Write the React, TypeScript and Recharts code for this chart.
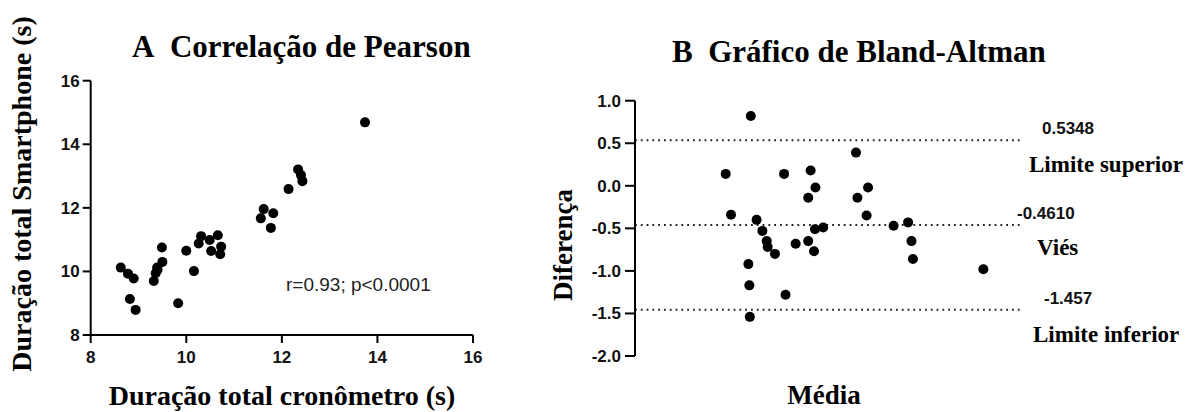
import { ReferenceLine, Scatter, ScatterChart, XAxis, YAxis } from 'recharts';

// A: stopwatch (x) vs smartphone (y), seconds
const stopwatch = [
  8.63, 8.78, 8.9, 8.82, 8.94, 9.32, 9.36, 9.39, 9.4, 9.5, 9.49, 9.83, 10.0, 10.16, 10.26,
  10.31, 10.49, 10.52, 10.66, 10.73, 10.71, 11.56, 11.62, 11.82, 11.77, 12.14, 12.34, 12.4,
  12.43, 13.74,
];
const smartphone = [
  10.12, 9.93, 9.78, 9.13, 8.79, 9.7, 9.94, 10.12, 10.05, 10.3, 10.75, 9.0, 10.65, 10.01,
  10.88, 11.11, 10.99, 10.64, 11.14, 10.78, 10.54, 11.67, 11.96, 11.83, 11.37, 12.59, 13.21,
  13.03, 12.84, 14.69,
];

// B: Bland-Altman mean / difference
const baMean = [
  8.88, 8.99, 9.4, 9.35, 9.37, 9.38, 9.52, 9.64, 9.73, 9.75, 9.9, 10.09, 10.12, 10.33, 10.59,
  10.64, 10.74, 10.59, 10.71, 10.73, 10.9, 11.58, 11.61, 11.83, 11.8, 12.36, 12.66, 12.73,
  12.76, 14.22,
];
const baDiff = [
  0.14, -0.34, 0.82, -0.92, -1.17, -1.54, -0.4, -0.53, -0.65, -0.72, -0.8, 0.14, -1.28, -0.68,
  -0.14, 0.18, -0.02, -0.65, -0.77, -0.51, -0.49, 0.39, -0.14, -0.02, -0.35, -0.47, -0.43,
  -0.65, -0.86, -0.98,
];

const pearsonTicks = [8, 10, 12, 14, 16];
const baTicks = [-2, -1.5, -1, -0.5, 0, 0.5, 1];

const limitValues = [0.5348, -0.461, -1.457];
const limitText = ['0.5348', '-0.4610', '-1.457'];
const limitNames = ['Limite superior', 'Viés', 'Limite inferior'];

const SANS = '"Liberation Sans", Arial, sans-serif';
const SERIF = '"Liberation Serif", "Times New Roman", serif';

// label offsets from the right end of each dotted line: [value dx, name dx, name dy]
const LIMIT_POS = [
  [21, 8, 32],
  [-4, 16, 30],
  [23, 12, 32],
];

const pearsonData = stopwatch.map((x, i) => ({ x, y: smartphone[i] }));
const baData = baMean.map((x, i) => ({ x, y: baDiff[i] }));

const Dot = (p: any) => <circle cx={p.cx} cy={p.cy} r={5} fill="#000" />;

const tickStyle = { fontFamily: SANS, fontSize: 17, fontWeight: 700, fill: '#111' };
const axisStroke = { stroke: '#000', strokeWidth: 2 };

function limitLabel(i: number) {
  return (props: any) => {
    const vb = props.viewBox || {};
    const right = (vb.x || 0) + (vb.width || 0);
    const y = vb.y || 0;
    const [vdx, ndx, ndy] = LIMIT_POS[i];
    return (
      <g>
        <text x={right + vdx} y={y - 6} fontFamily={SANS} fontSize={17} fontWeight={700} fill="#111">
          {limitText[i]}
        </text>
        <text x={right + ndx} y={y + ndy} fontFamily={SERIF} fontSize={23} fontWeight={700} fill="#000">
          {limitNames[i]}
        </text>
      </g>
    );
  };
}

export default function App() {
  return (
    <div style={{ position: 'absolute', left: 0, top: 0, width: 1191, height: 412, background: '#fff', overflow: 'hidden' }}>
      <div style={{ position: 'absolute', left: 0, top: 0 }}>
        <ScatterChart width={560} height={412} margin={{ top: 80.7, right: 87, bottom: 42, left: 40.7 }}>
          <XAxis
            type="number"
            dataKey="x"
            domain={[8, 16]}
            ticks={pearsonTicks}
            height={35}
            tickSize={8}
            tickMargin={8}
            stroke="#000"
            strokeWidth={2}
            tick={tickStyle}
            axisLine={axisStroke}
            tickLine={axisStroke}
          />
          <YAxis
            type="number"
            dataKey="y"
            domain={[8, 16]}
            ticks={pearsonTicks}
            width={50}
            tickSize={8}
            tickMargin={3}
            stroke="#000"
            strokeWidth={2}
            tick={tickStyle}
            axisLine={axisStroke}
            tickLine={axisStroke}
          />
          <Scatter data={pearsonData} shape={Dot} isAnimationActive={false} />
        </ScatterChart>
      </div>

      <div style={{ position: 'absolute', left: 520, top: 0 }}>
        <ScatterChart width={671} height={412} margin={{ top: 100.7, right: 170, bottom: 56, left: 55 }}>
          <XAxis type="number" dataKey="x" domain={[7, 15]} hide />
          <YAxis
            type="number"
            dataKey="y"
            domain={[-2, 1]}
            ticks={baTicks}
            tickFormatter={(v: number) => v.toFixed(1)}
            width={60}
            tickSize={10}
            tickMargin={4}
            stroke="#000"
            strokeWidth={2}
            tick={tickStyle}
            axisLine={axisStroke}
            tickLine={axisStroke}
          />
          {limitValues.map((v, i) => (
            <ReferenceLine
              key={i}
              y={v}
              stroke="#222"
              strokeWidth={2}
              strokeDasharray="1.8 4"
              label={limitLabel(i)}
            />
          ))}
          <Scatter data={baData} shape={Dot} isAnimationActive={false} />
        </ScatterChart>
      </div>

      <svg width={1191} height={412} style={{ position: 'absolute', left: 0, top: 0, pointerEvents: 'none' }}>
        <text x={132} y={57} fontFamily={SERIF} fontSize={31} fontWeight={700} fill="#000">
          {'A\u00a0\u00a0Correlação de Pearson'}
        </text>
        <text x={672} y={62} fontFamily={SERIF} fontSize={31} fontWeight={700} fill="#000">
          {'B\u00a0\u00a0Gráfico de Bland-Altman'}
        </text>
        <text x={282} y={405} textAnchor="middle" fontFamily={SERIF} fontSize={28} fontWeight={700} fill="#000">
          Duração total cronômetro (s)
        </text>
        <text
          x={31}
          y={194}
          textAnchor="middle"
          transform="rotate(-90 31 194)"
          fontFamily={SERIF}
          fontSize={28}
          fontWeight={700}
          fill="#000"
        >
          Duração total Smartphone (s)
        </text>
        <text x={286} y={291} fontFamily={SANS} fontSize={19} fill="#222">
          r=0.93; p&lt;0.0001
        </text>
        <text x={824} y={404} textAnchor="middle" fontFamily={SERIF} fontSize={27} fontWeight={700} fill="#000">
          Média
        </text>
        <text
          x={572}
          y={245}
          textAnchor="middle"
          transform="rotate(-90 572 245)"
          fontFamily={SERIF}
          fontSize={27}
          fontWeight={700}
          fill="#000"
        >
          Diferença
        </text>
      </svg>
    </div>
  );
}
